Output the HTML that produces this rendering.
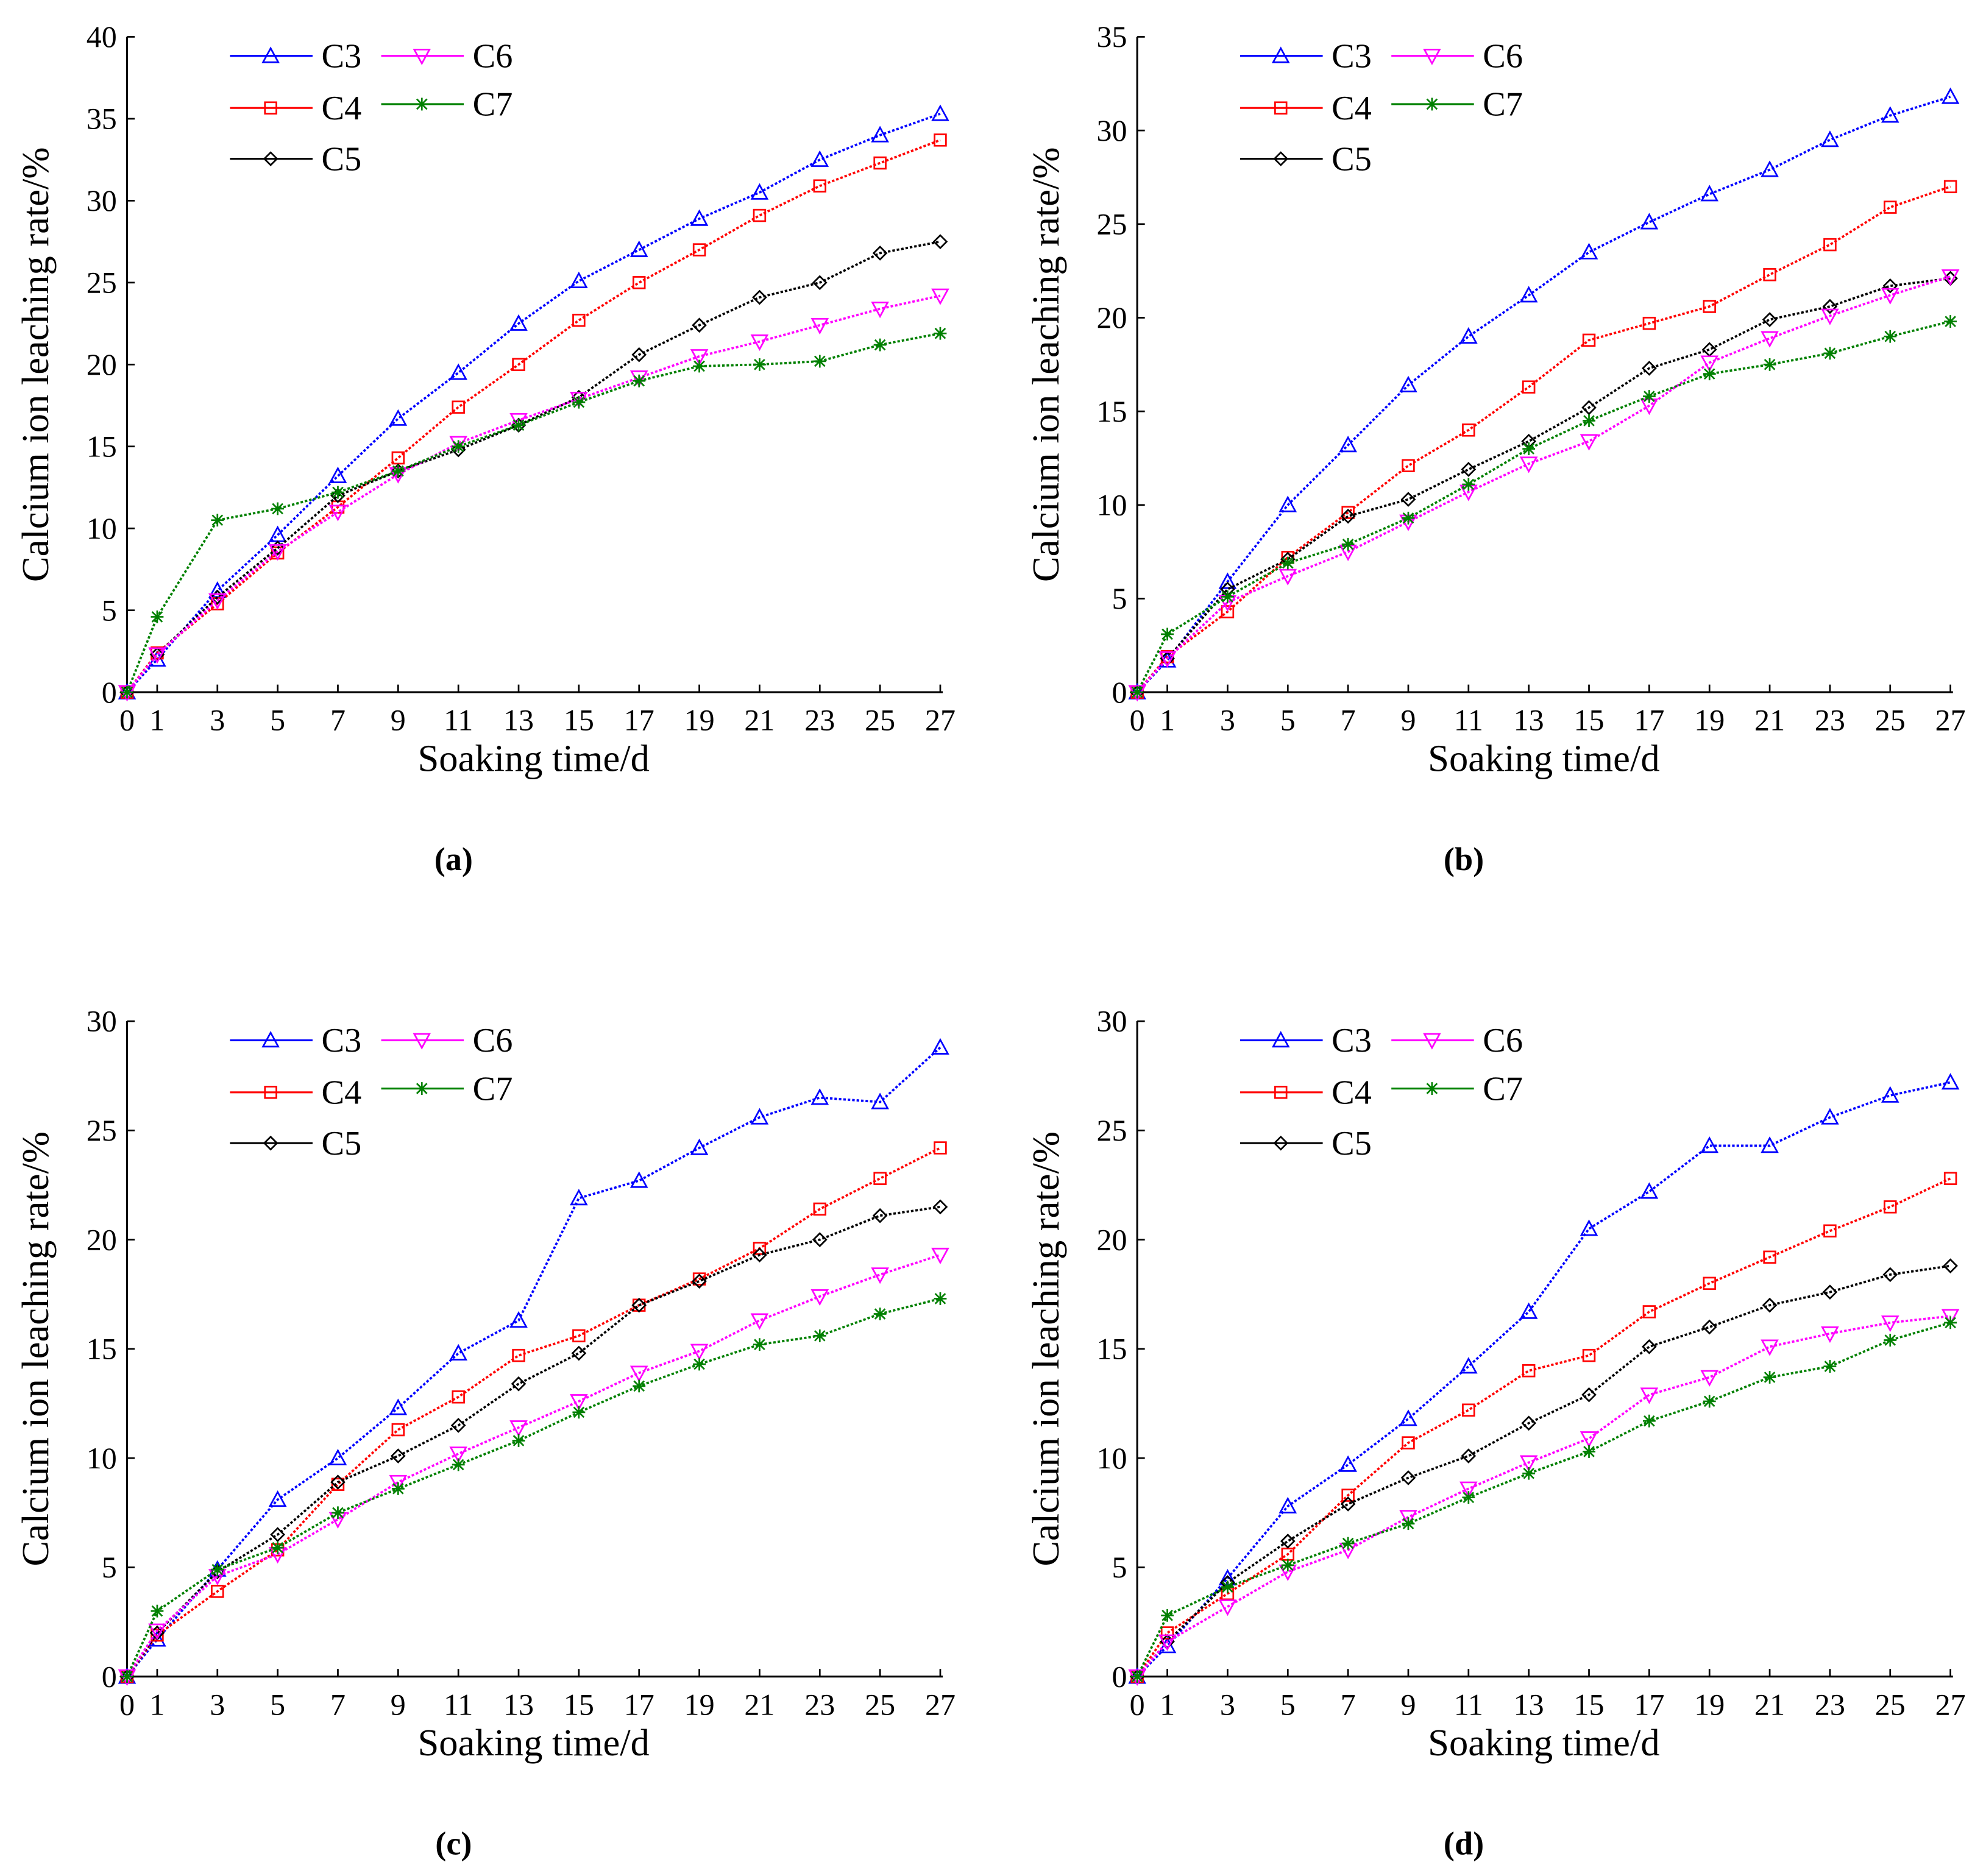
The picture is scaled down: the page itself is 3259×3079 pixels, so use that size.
<!DOCTYPE html>
<html><head><meta charset="utf-8"><style>
html,body{margin:0;padding:0;background:#fff}
svg{display:block}
svg text{font-family:"Liberation Serif","Times New Roman",serif;fill:#000}
</style></head><body>
<svg id="fig" width="3259" height="3079" viewBox="0 0 1563 1477" preserveAspectRatio="none" font-family="Liberation Serif, serif" xmlns="http://www.w3.org/2000/svg"></svg>
<script>
const days=[0,1,3,5,7,9,11,13,15,17,19,21,23,25,27];
const seriesNames=["C3","C4","C5","C6","C7"];
const aC3=[0,2,6.2,9.6,13.2,16.7,19.5,22.5,25.1,27,28.9,30.5,32.5,34,35.3];
const aC4=[0,2.4,5.4,8.5,11.3,14.3,17.4,20,22.7,25,27,29.1,30.9,32.3,33.7];
const aC5=[0,2.3,5.8,8.8,12,13.5,14.8,16.3,18,20.6,22.4,24.1,25,26.8,27.5];
const aC6=[0,2.3,5.6,8.6,11,13.3,15.2,16.6,17.9,19.2,20.5,21.4,22.4,23.4,24.2];
const aC7=[0,4.6,10.5,11.2,12.2,13.5,15,16.3,17.7,19,19.9,20,20.2,21.2,21.9];
const bC3=[0,1.7,5.9,10,13.2,16.4,19,21.2,23.5,25.1,26.6,27.9,29.5,30.8,31.8];
const bC4=[0,1.9,4.3,7.2,9.6,12.1,14,16.3,18.8,19.7,20.6,22.3,23.9,25.9,27];
const bC5=[0,1.8,5.5,7.1,9.4,10.3,11.9,13.4,15.2,17.3,18.3,19.9,20.6,21.7,22.1];
const bC6=[0,1.8,4.8,6.2,7.5,9.1,10.7,12.2,13.4,15.3,17.6,18.9,20.1,21.2,22.2];
const bC7=[0,3.1,5.1,6.9,7.9,9.3,11.1,13,14.5,15.8,17,17.5,18.1,19,19.8];
const cC3=[0,1.7,4.9,8.1,10,12.3,14.8,16.3,21.9,22.7,24.2,25.6,26.5,26.3,28.8];
const cC4=[0,1.9,3.9,5.8,8.8,11.3,12.8,14.7,15.6,17,18.2,19.6,21.4,22.8,24.2];
const cC5=[0,2,4.8,6.5,8.9,10.1,11.5,13.4,14.8,17,18.1,19.3,20,21.1,21.5];
const cC6=[0,2.1,4.6,5.6,7.2,8.9,10.2,11.4,12.6,13.9,14.9,16.3,17.4,18.4,19.3];
const cC7=[0,3,4.9,5.9,7.5,8.6,9.7,10.8,12.1,13.3,14.3,15.2,15.6,16.6,17.3];
const dC3=[0,1.4,4.5,7.8,9.7,11.8,14.2,16.7,20.5,22.2,24.3,24.3,25.6,26.6,27.2];
const dC4=[0,2,3.8,5.6,8.3,10.7,12.2,14,14.7,16.7,18,19.2,20.4,21.5,22.8];
const dC5=[0,1.6,4.3,6.2,7.9,9.1,10.1,11.6,12.9,15.1,16,17,17.6,18.4,18.8];
const dC6=[0,1.6,3.2,4.8,5.8,7.3,8.6,9.8,10.9,12.9,13.7,15.1,15.7,16.2,16.5];
const dC7=[0,2.8,4.1,5.1,6.1,7.0,8.2,9.3,10.3,11.7,12.6,13.7,14.2,15.4,16.2];
const yTicksA=[0,5,10,15,20,25,30,35,40];
const yTicksB=[0,5,10,15,20,25,30,35];
const yTicksCD=[0,5,10,15,20,25,30];
const xTicks=[0,1,3,5,7,9,11,13,15,17,19,21,23,25,27];

const NS="http://www.w3.org/2000/svg";
const svg=document.getElementById('fig');
function el(tag,attrs,parent){const e=document.createElementNS(NS,tag);for(const k in attrs)e.setAttribute(k,attrs[k]);if(tag==='text')e.setAttribute('font-family','Liberation Serif, serif');(parent||svg).appendChild(e);return e;}
const colors=["#0000ff","#ff0000","#000000","#ff00ff","#008000"];

function marker(g,i,x,y){
  const c=colors[i];let m;
  if(i===0)m=el('polygon',{points:`${x},${y-6} ${x-6},${y+5} ${x+6},${y+5}`,fill:'none',stroke:c,'stroke-width':1.3},g);
  else if(i===1)m=el('rect',{x:x-4.5,y:y-4.5,width:9,height:9,fill:'none',stroke:c,'stroke-width':1.3},g);
  else if(i===2)m=el('polygon',{points:`${x},${y-5} ${x+5},${y} ${x},${y+5} ${x-5},${y}`,fill:'none',stroke:c,'stroke-width':1.3},g);
  else if(i===3)m=el('polygon',{points:`${x},${y+6} ${x-6},${y-5} ${x+6},${y-5}`,fill:'none',stroke:c,'stroke-width':1.3},g);
  else m=el('path',{d:`M${x-5},${y}H${x+5}M${x},${y-5}V${y+5}M${x-4},${y-4}L${x+4},${y+4}M${x-4},${y+4}L${x+4},${y-4}`,stroke:c,'stroke-width':1.3,fill:'none'},g);
  return m;
}

function panel(key,ox,oy,ymax,yTicks,data,label){
  const x0=ox,x1=ox+640,y0=oy,y1=oy-516;
  const X=v=>x0+(v/27)*(x1-x0);
  const Y=v=>y0-(v/ymax)*(y0-y1);
  const g=el('g',{});
  
  
  const ax=el('path',{d:`M${x0},${y1}V${y0}H${x1+2}`,stroke:'#000','stroke-width':1.5,fill:'none'},g);
  
  
  yTicks.forEach(t=>{
    el('line',{x1:x0,x2:x0+6,y1:Y(t),y2:Y(t),stroke:'#000','stroke-width':1.3},g);
    const tx=el('text',{x:x0-8,y:Y(t)+8,'font-size':24,'text-anchor':'end'},g);tx.textContent=t;
    
    
  });
  xTicks.forEach(t=>{
    el('line',{x1:X(t),x2:X(t),y1:y0,y2:y0-6,stroke:'#000','stroke-width':1.3},g);
    const tx=el('text',{x:X(t),y:y0+30,'font-size':24,'text-anchor':'middle'},g);tx.textContent=t;
    
    
  });
  const yt=el('text',{x:0,y:0,'font-size':30,'text-anchor':'middle',transform:`translate(${x0-62},${(y0+y1)/2}) rotate(-90)`},g);
  yt.textContent='Calcium ion leaching rate/%';
  
  
  const xt=el('text',{x:(x0+x1)/2,y:y0+62,'font-size':30,'text-anchor':'middle'},g);
  xt.textContent='Soaking time/d';
  
  
  data.forEach((arr,i)=>{
    const pts=arr.map((v,j)=>X(days[j])+','+Y(v)).join(' ');
    const pl=el('polyline',{points:pts,fill:'none',stroke:colors[i],'stroke-width':1.8,'stroke-dasharray':'2,1.5'},g);
    
    
    arr.forEach((v,j)=>{const m=marker(g,i,X(days[j]),Y(v));
      
      });
  });
  const lx=[ox+81,ox+81,ox+81,ox+200,ox+200],ly=[oy-501,oy-460,oy-420,oy-501,oy-463];
  seriesNames.forEach((n,i)=>{
    const lg=el('g',{},g);
    
    
    el('line',{x1:lx[i],x2:lx[i]+65,y1:ly[i],y2:ly[i],stroke:colors[i],'stroke-width':1.5},lg);
    marker(lg,i,lx[i]+32,ly[i]);
    const t=el('text',{x:lx[i]+72,y:ly[i]+9,'font-size':27},lg);t.textContent=n;
  });
  const cap=el('text',{x:ox+257,y:oy+140,'font-size':26,'font-weight':'bold','text-anchor':'middle'},g);
  cap.textContent=label;
  
  
}
panel('a',100,545,40,yTicksA,[aC3,aC4,aC5,aC6,aC7],'(a)');
panel('b',895,545,35,yTicksB,[bC3,bC4,bC5,bC6,bC7],'(b)');
panel('c',100,1320,30,yTicksCD,[cC3,cC4,cC5,cC6,cC7],'(c)');
panel('d',895,1320,30,yTicksCD,[dC3,dC4,dC5,dC6,dC7],'(d)');
</script>
</body></html>
